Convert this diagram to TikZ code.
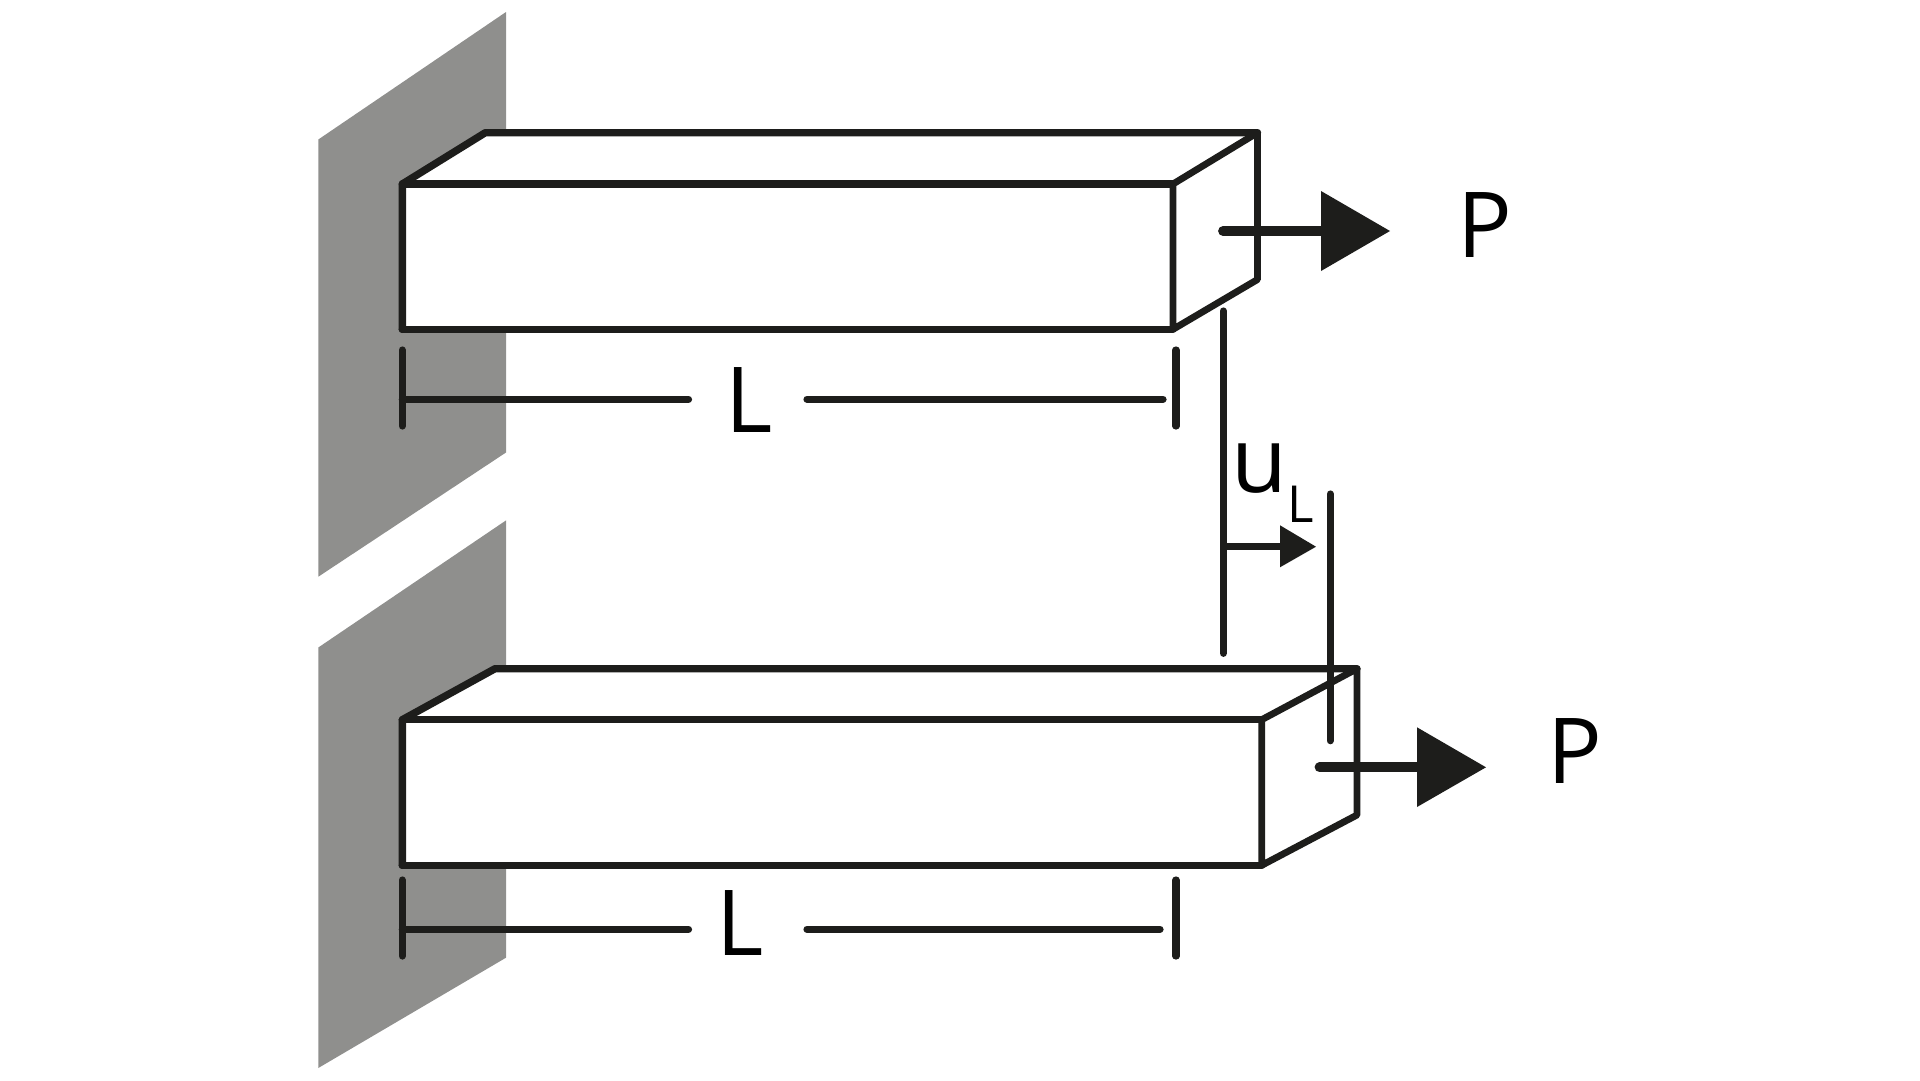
\documentclass[tikz,border=0pt]{standalone}
\usepackage{fontspec}
\setmainfont{Open Sans}
\definecolor{ink}{HTML}{1D1D1B}
\definecolor{wallgrey}{HTML}{8F8F8D}
\tikzset{
  wallpart/.style={fill=wallgrey,draw=none},
  edge/.style={draw=ink,line width=7.4pt,line join=round,line cap=round},
  sideedge/.style={draw=ink,line width=6.8pt,line join=round,line cap=round},
  dimline/.style={draw=ink,line width=7.2pt,line cap=round},
  shaft/.style={draw=ink,line width=9.8pt,line cap=round},
  head/.style={fill=ink,draw=none},
  big/.style={inner sep=0pt,outer sep=0pt,anchor=base west,text=black,font=\fontsize{91}{91}\selectfont},
  small/.style={inner sep=0pt,outer sep=0pt,anchor=base west,text=black,font=\fontsize{51}{51}\selectfont},
}
\begin{document}
\begin{tikzpicture}[x=1pt,y=-1pt]
\useasboundingbox (0,0) rectangle (1920,1080);
% walls
\fill[wallpart] (318.3,139.5) -- (506,12) -- (506,452.5) -- (318.3,576.7) -- cycle;
\fill[wallpart] (318.3,647.5) -- (506,520.4) -- (506,957.7) -- (318.3,1068) -- cycle;
% beam 1
\coordinate (a1) at (402.3,184);
\coordinate (b1) at (485.3,132.7);
\coordinate (c1) at (1257.5,132.7);
\coordinate (d1) at (1173,184);
\coordinate (e1) at (1173,329.3);
\coordinate (f1) at (402.3,329.3);
\coordinate (g1) at (1257.5,279.5);
\path[fill=white] (a1) -- (b1) -- (c1) -- (g1) -- (e1) -- (f1) -- cycle;
\draw[edge] (f1) -- (a1) -- (b1) -- (c1);
\draw[edge] (a1) -- (d1);
\draw[edge] (f1) -- (e1);
\draw[sideedge] (c1) -- (d1) -- (e1) -- (g1) -- cycle;
% beam 2
\coordinate (a2) at (402.3,719.7);
\coordinate (b2) at (495,668.7);
\coordinate (c2) at (1357,668.7);
\coordinate (d2) at (1261.7,719.7);
\coordinate (e2) at (1261.7,865.3);
\coordinate (f2) at (402.3,865.3);
\coordinate (g2) at (1357,815);
\path[fill=white] (a2) -- (b2) -- (c2) -- (g2) -- (e2) -- (f2) -- cycle;
\draw[edge] (f2) -- (a2) -- (b2) -- (c2);
\draw[edge] (a2) -- (d2);
\draw[edge] (f2) -- (e2);
\draw[sideedge] (c2) -- (d2) -- (e2) -- (g2) -- cycle;
% length dimension 1
\draw[dimline] (402.3,350) -- (402.3,426);
\draw[dimline] (402.3,399.3) -- (688.5,399.3);
\draw[dimline] (807,399.3) -- (1163,399.3);
\draw[dimline] (1176,350) -- (1176,426);
\node[big] (len1) at (725,432.3) {L};
% length dimension 2
\draw[dimline] (402.3,880) -- (402.3,956);
\draw[dimline] (402.3,929.3) -- (688.5,929.3);
\draw[dimline] (807,929.3) -- (1160,929.3);
\draw[dimline] (1176,880) -- (1176,956);
\node[big] (len2) at (716,955) {L};
% force 1
\coordinate (p1s) at (1223,231);
\coordinate (p1b) at (1321,231);
\draw[shaft] (p1s) -- (p1b);
\fill[head] (1321,191) -- (1390,231) -- (1321,271) -- cycle;
\node[big] (force1) at (1457.8,257.5) {P};
% force 2
\coordinate (p2s) at (1319.5,767.3);
\coordinate (p2b) at (1417,767.3);
\draw[shaft] (p2s) -- (p2b);
\fill[head] (1417,727.3) -- (1486,767.3) -- (1417,807) -- cycle;
\node[big] (force2) at (1547,783.5) {P};
% displacement
\draw[dimline] (1223.3,311) -- (1223.3,653.3);
\draw[dimline] (1330.3,494) -- (1330.3,740.7);
\draw[draw=ink,line width=7.2pt] (1223.3,546.7) -- (1282,546.7);
\fill[head] (1280,525.3) -- (1316,546.7) -- (1280,567.3) -- cycle;
\node[big] (disp) at (1231.5,492.5) {u};
\node[small] (dispsub) at (1287.5,522.2) {L};
\end{tikzpicture}
\end{document}
